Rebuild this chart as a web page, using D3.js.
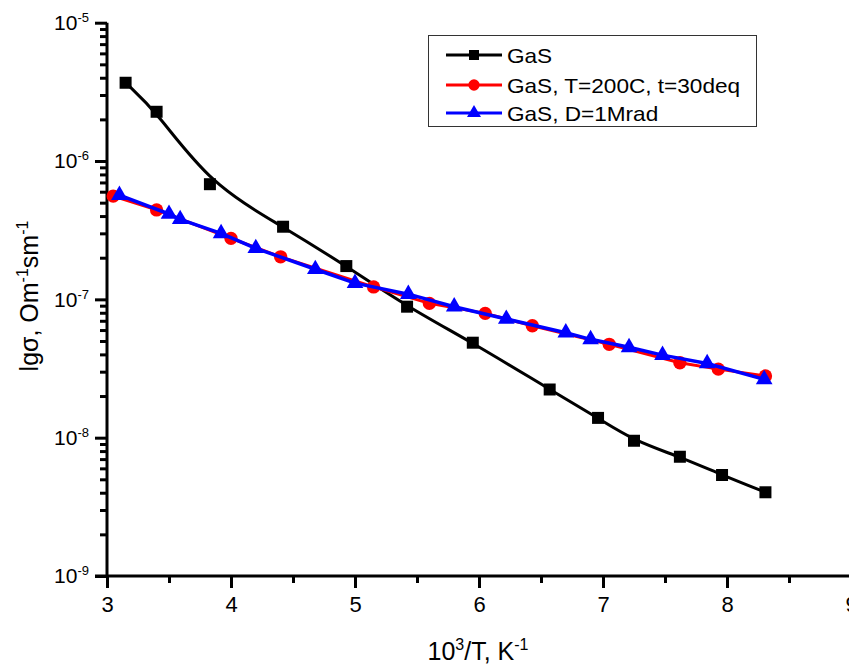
<!DOCTYPE html>
<html>
<head>
<meta charset="utf-8">
<script src="https://cdn.jsdelivr.net/npm/d3@7"></script>
<style>
  html, body { margin: 0; padding: 0; background: #fff; }
  svg { display: block; font-family: "Liberation Sans", Arial, sans-serif; }
</style>
</head>
<body>
<svg id="chart" width="849" height="669"></svg>
<script>
// ---- data ----
const gasX = [3.15, 3.40, 3.83, 4.42, 4.93, 5.42, 5.95, 6.57, 6.96, 7.25, 7.62, 7.96, 8.31];
const gasY = [3.68e-6, 2.27e-6, 6.8e-7, 3.35e-7, 1.74e-7, 8.85e-8, 4.86e-8, 2.23e-8, 1.39e-8, 9.5e-9, 7.28e-9, 5.37e-9, 4.03e-9];

const annealX = [3.05, 3.40, 4.00, 4.40, 5.15, 5.60, 6.05, 6.43, 7.05, 7.62, 7.93, 8.31];
const annealY = [5.58e-7, 4.43e-7, 2.76e-7, 2.03e-7, 1.23e-7, 9.35e-8, 7.92e-8, 6.44e-8, 4.73e-8, 3.48e-8, 3.13e-8, 2.79e-8];

const radX = [3.10, 3.50, 3.59, 3.92, 4.20, 4.68, 5.00, 5.43, 5.80, 6.22, 6.70, 6.90, 7.21, 7.48, 7.84, 8.30];
const radY = [5.67e-7, 4.14e-7, 3.79e-7, 3.00e-7, 2.34e-7, 1.65e-7, 1.31e-7, 1.09e-7, 8.85e-8, 7.21e-8, 5.74e-8, 5.14e-8, 4.50e-8, 3.95e-8, 3.44e-8, 2.64e-8];

const seriesNames = ["GaS", "GaS, T=200C, t=30deq", "GaS, D=1Mrad"];
const xMajorTicks = [3, 4, 5, 6, 7, 8, 9];
const xMinorTicks = [3.5, 4.5, 5.5, 6.5, 7.5, 8.5];
const yExponents = [-9, -8, -7, -6, -5];

// ---- layout ----
const svg = d3.select("#chart");
const mLeft = 107, mRight = 851, mTop = 22.7, mBottom = 576;

const x = d3.scaleLinear().domain([3, 9]).range([mLeft, mRight]);
const y = d3.scaleLog().domain([1e-9, 1e-5]).range([mBottom, mTop]);

const yMajor = yExponents.map(e => Math.pow(10, e));
const yMinor = [];
yExponents.slice(0, -1).forEach(e => { for (let m = 2; m <= 9; m++) yMinor.push(m * Math.pow(10, e)); });

// ---- axes ----
const yMinorAxis = d3.axisLeft(y).tickValues(yMinor).tickSize(7).tickFormat("");
const yMajorAxis = d3.axisLeft(y).tickValues(yMajor).tickSize(12).tickPadding(6).tickFormat("");
const xMinorAxis = d3.axisBottom(x).tickValues(xMinorTicks).tickSize(7).tickFormat("");
const xMajorAxis = d3.axisBottom(x).tickValues(xMajorTicks).tickSize(12).tickPadding(8).tickFormat(d3.format("d"));

function styleAxis(g) {
  g.selectAll("path.domain").attr("stroke", "#000").attr("stroke-width", 3);
  g.selectAll(".tick line").attr("stroke", "#000").attr("stroke-width", 3);
  g.selectAll("text").attr("fill", "#000");
}

const gy1 = svg.append("g").attr("transform", `translate(${mLeft},0)`).call(yMinorAxis).call(styleAxis);
gy1.select("path.domain").remove();
const gy2 = svg.append("g").attr("transform", `translate(${mLeft},0)`).call(yMajorAxis).call(styleAxis);
gy2.select("path.domain").attr("d", `M0,${mBottom + 1.5}V${mTop}`);

gy2.selectAll(".tick text").each(function(d) {
  const t = d3.select(this).attr("font-size", 21).attr("font-family", "Liberation Sans, Arial, sans-serif");
  t.text(null);
  t.append("tspan").text("10");
  t.append("tspan").attr("font-size", 13).attr("dy", "-0.62em").text(Math.round(Math.log10(d)));
});

const gx1 = svg.append("g").attr("transform", `translate(0,${mBottom})`).call(xMinorAxis).call(styleAxis);
gx1.select("path.domain").remove();
const gx2 = svg.append("g").attr("transform", `translate(0,${mBottom})`).call(xMajorAxis).call(styleAxis);
gx2.select("path.domain").attr("d", `M${mLeft - 12},0H${mRight}`);
gx2.selectAll(".tick text").attr("font-size", 22).attr("font-family", "Liberation Sans, Arial, sans-serif");

// ---- axis titles ----
const xt = svg.append("text").attr("x", 478).attr("y", 660).attr("text-anchor", "middle")
  .attr("font-size", 25).attr("fill", "#000");
xt.append("tspan").text("10");
xt.append("tspan").attr("font-size", 16).attr("dy", -10).text("3");
xt.append("tspan").attr("dy", 10).text("/T, K");
xt.append("tspan").attr("font-size", 16).attr("dy", -10).text("-1");

const yt = svg.append("text").attr("transform", "translate(38,296) rotate(-90)").attr("text-anchor", "middle")
  .attr("font-size", 25).attr("fill", "#000");
yt.append("tspan").text("lgσ, Om");
yt.append("tspan").attr("font-size", 16).attr("dy", -10).text("-1");
yt.append("tspan").attr("dy", 10).text("sm");
yt.append("tspan").attr("font-size", 16).attr("dy", -10).text("-1");

// ---- series ----
const series = [
  { xs: gasX, ys: gasY, color: "#000000", sym: d3.symbolSquare, size: 144, lw: 3, curve: d3.curveBasis, legSize: 100 },
  { xs: annealX, ys: annealY, color: "#ff0000", sym: d3.symbolCircle, size: 140, lw: 3, curve: d3.curveLinear, legSize: 100 },
  { xs: radX, ys: radY, color: "#0000ff", sym: d3.symbolTriangle, size: 120, lw: 3.5, curve: d3.curveLinear, legSize: 85 }
];

series.forEach(s => {
  const pts = s.xs.map((v, i) => [v, s.ys[i]]);
  const line = d3.line().x(d => x(d[0])).y(d => y(d[1])).curve(s.curve);
  svg.append("path").datum(pts).attr("d", line).attr("fill", "none")
    .attr("stroke", s.color).attr("stroke-width", s.lw).attr("stroke-linejoin", "round");
  svg.append("g").selectAll("path").data(pts).join("path")
    .attr("transform", d => `translate(${x(d[0])},${y(d[1])})`)
    .attr("d", d3.symbol().type(s.sym).size(s.size))
    .attr("fill", s.color);
});

// ---- legend ----
const legend = svg.append("g");
legend.append("rect").attr("x", 428.5).attr("y", 35.5).attr("width", 328).attr("height", 91)
  .attr("fill", "#fff").attr("stroke", "#333").attr("stroke-width", 1);
const rowY = [55, 85, 113];
series.forEach((s, i) => {
  const yy = rowY[i];
  legend.append("line").attr("x1", 446).attr("x2", 502).attr("y1", yy).attr("y2", yy)
    .attr("stroke", s.color).attr("stroke-width", 3);
  legend.append("path").attr("transform", `translate(474,${yy})`)
    .attr("d", d3.symbol().type(s.sym).size(s.legSize)).attr("fill", s.color);
  legend.append("text").attr("transform", `translate(507,${yy + 7.5}) scale(1.13,1.05)`)
    .attr("font-size", 20).attr("fill", "#000")
    .text(seriesNames[i]);
});
</script>
</body>
</html>
